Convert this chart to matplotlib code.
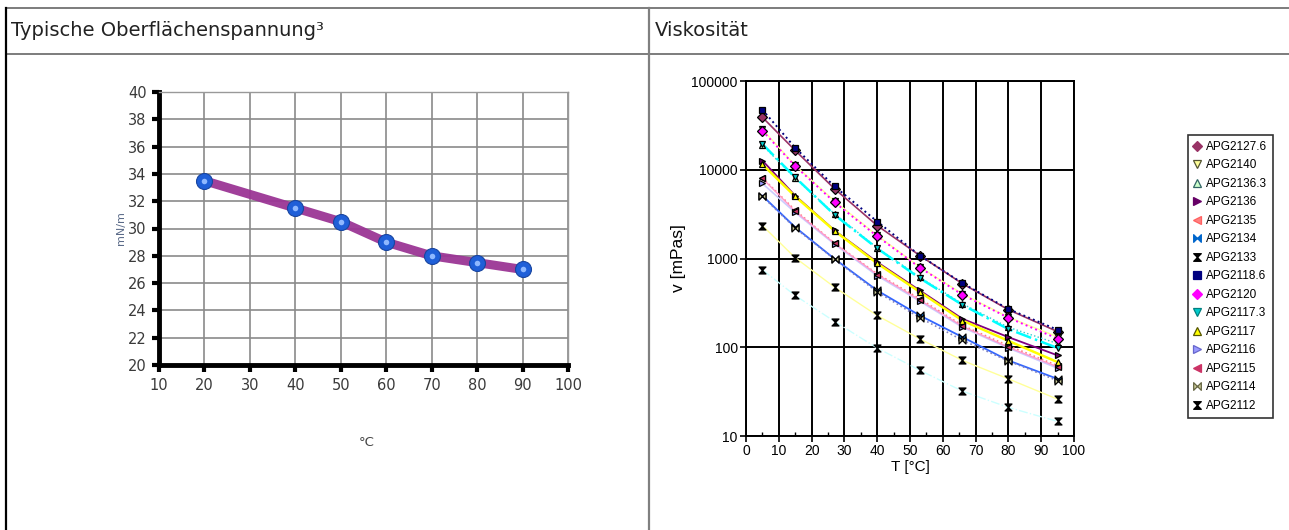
import matplotlib
matplotlib.use('Agg')
import matplotlib.pyplot as plt
from matplotlib.lines import Line2D
from matplotlib.path import Path
import numpy as np

W, H = 1289, 530

# ── Oberflächenspannung ────────────────────────────────────────────────
temp_c = [20, 40, 50, 60, 70, 80, 90]
tension = [33.5, 31.5, 30.5, 29.0, 28.0, 27.5, 27.0]

# ── Viskosität ─────────────────────────────────────────────────────────
visc_temps = [5, 15, 27, 40, 53, 66, 80, 95]
visc_names = ["APG2127.6", "APG2140", "APG2136.3", "APG2136", "APG2135",
              "APG2134", "APG2133", "APG2118.6", "APG2120", "APG2117.3",
              "APG2117", "APG2116", "APG2115", "APG2114", "APG2112"]
visc_values = [
    [39000, 16500, 6100, 2350, 1080, 520, 265, 150],   # 2127.6
    [28500, 11200, 4440, 1820, 800, 400, 218, 131],    # 2140
    [19000, 8000, 3190, 1320, 615, 308, 168, 110],     # 2136.3
    [12700, 5100, 2070, 910, 436, 209, 130, 81],       # 2136
    [8100, 3500, 1490, 672, 351, 176, 104, 62],        # 2135
    [5100, 2250, 990, 436, 228, 130, 71, 44],          # 2134
    [2350, 1020, 475, 228, 124, 71, 44, 26],           # 2133
    [47500, 17700, 6490, 2610, 1080, 527, 270, 157],   # 2118.6
    [27500, 11000, 4300, 1780, 790, 390, 215, 125],    # 2120
    [19500, 8200, 3100, 1300, 600, 300, 160, 98],      # 2117.3
    [11500, 5000, 2050, 880, 420, 200, 118, 68],       # 2117
    [7000, 3300, 1450, 640, 330, 168, 98, 58],         # 2116
    [8000, 3400, 1480, 660, 340, 172, 100, 60],        # 2115
    [5000, 2200, 980, 420, 215, 120, 70, 42],          # 2114
    [745, 383, 195, 98, 55, 32, 21, 14.6],             # 2112
]

bowtie = Path([(-1, 1), (-1, -1), (0, 0), (1, 1), (1, -1), (0, 0), (-1, 1)],
              [1, 2, 2, 2, 2, 2, 79])
ibar = Path([(-1, 1), (1, 1), (0, 0), (-1, -1), (1, -1), (0, 0), (-1, 1)],
            [1, 2, 2, 2, 2, 2, 79])

markers = ['D', 'v', '^', '>', '<', bowtie, ibar, 's', 'D', 'v', '^', '>', '<', bowtie, ibar]
mk_colors = ['#993366', '#FFFF99', '#CCFFCC', '#660066', '#FF8080', '#0066CC', '#000000',
             '#000080', '#FF00FF', '#00CCCC', '#FFFF00', '#9999FF', '#CC3366', '#CCCC99', '#000000']
leg_edges = ['#993366', '#555533', '#336666', '#660066', '#FF6060', '#0066CC', '#000000',
             '#000080', '#FF00FF', '#008080', '#555500', '#6666CC', '#CC3366', '#666644', '#000000']
line_colors = ['#993366', '#FFFF99', '#33CCCC', '#800080', '#FF8080', '#3366FF', '#FFFF99',
               '#000080', '#FF00FF', '#00FFFF', '#FFFF00', '#CCCCFF', '#FF99CC', '#8080C0', '#CCFFFF']
line_styles = ['-', '-', ':', '-', ':', '-', '-', ':', ':', '-.', '-', '-', '-', ':', '-.']
line_widths = [1.2, 1.0, 1.0, 1.3, 1.2, 1.3, 1.0, 1.4, 1.4, 1.8, 1.8, 1.2, 1.0, 1.2, 1.0]


def fx(x):
    return x / W


def fy(y):
    return 1 - y / H


fig = plt.figure(figsize=(W / 100, H / 100), dpi=100)
fig.patch.set_facecolor('white')

# table frame
for (x0, y0, x1, y1, c, lw) in [
        (6, 8, W, 8, '#666666', 1.2),
        (6, 54, W, 54, '#666666', 1.2),
        (6, 8, 6, H, '#000000', 1.6),
        (649, 8, 649, H, '#808080', 1.6)]:
    fig.add_artist(Line2D([fx(x0), fx(x1)], [fy(y0), fy(y1)], color=c, lw=lw))

fig.text(fx(11), fy(31), 'Typische Oberflächenspannung³', fontsize=14,
         va='center', ha='left', color='#222222', family='DejaVu Sans')
fig.text(fx(655), fy(31), 'Viskosität', fontsize=14,
         va='center', ha='left', color='#222222', family='DejaVu Sans')

# ── left chart ─────────────────────────────────────────────────────────
ax1 = fig.add_axes([fx(159), fy(365), fx(568 - 159), (365 - 92) / H])
ax1.set_xlim(10, 100)
ax1.set_ylim(20, 40)
ax1.set_xticks(np.arange(10, 101, 10))
ax1.set_yticks(np.arange(20, 41, 2))
ax1.grid(True, color='#8a8a8a', lw=1.2)
ax1.set_axisbelow(True)
for s in ['top', 'right']:
    ax1.spines[s].set_color('#999999')
    ax1.spines[s].set_linewidth(1.0)
for s in ['left', 'bottom']:
    ax1.spines[s].set_color('black')
    ax1.spines[s].set_linewidth(3.5)
ax1.tick_params(direction='out', length=5, width=3, color='black',
                labelsize=10.5, labelcolor='#3a3a3a', pad=4)
ax1.plot(temp_c, tension, color='#9B3595', lw=6.5, alpha=0.95,
         solid_capstyle='round', solid_joinstyle='round', zorder=3)
ax1.plot(temp_c, tension, 'o', ms=11.5, mfc='#1f5fd8', mec='#1845a0', mew=0.8, zorder=4)
ax1.plot(temp_c, tension, 'o', ms=4, mfc='#8fb8ff', mec='none', zorder=5)
fig.text(fx(121), fy(228), 'mN/m', rotation=90, fontsize=8, color='#5a6a88',
         ha='center', va='center')
fig.text(fx(367), fy(442), '°C', fontsize=9.5, color='#444444',
         ha='center', va='center')

# ── right chart ────────────────────────────────────────────────────────
ax2 = fig.add_axes([fx(746), fy(436), fx(1074 - 746), (436 - 81) / H])
ax2.set_yscale('log')
ax2.set_xlim(0, 100)
ax2.set_ylim(10, 100000)
ax2.set_xticks(np.arange(0, 101, 10))
ax2.set_xticks(np.arange(5, 100, 10), minor=True)
ax2.set_yticks([10, 100, 1000, 10000, 100000])
ax2.set_yticklabels(['10', '100', '1000', '10000', '100000'])
ax2.yaxis.set_minor_locator(matplotlib.ticker.NullLocator())
ax2.grid(True, which='major', color='black', lw=1.4)
ax2.set_axisbelow(True)
for s in ax2.spines.values():
    s.set_color('black')
    s.set_linewidth(1.4)
ax2.tick_params(which='major', direction='out', length=4, width=1.2,
                labelsize=10, pad=2)
ax2.tick_params(which='minor', direction='in', length=3, width=1.0)
for lab in ax2.get_xticklabels() + ax2.get_yticklabels():
    lab.set_family('Liberation Sans')

handles = []
for i, name in enumerate(visc_names):
    vals = visc_values[i]
    ax2.plot(visc_temps, vals, color=line_colors[i], ls=line_styles[i],
             lw=line_widths[i], zorder=2)
    ax2.plot(visc_temps, vals, ls='none', marker=markers[i], ms=5,
             mfc=mk_colors[i], mec='black', mew=0.9, zorder=3)
    handles.append(Line2D([], [], ls='none', marker=markers[i], ms=5.5,
                          mfc=mk_colors[i], mec=leg_edges[i], mew=0.9, label=name))

ax2.set_xlabel('T [°C]', fontsize=11, family='Liberation Sans', labelpad=1)
ax2.set_ylabel('v [mPas]', fontsize=12.5, family='Liberation Sans', labelpad=4)

leg = fig.legend(handles=handles, loc='upper left',
                 bbox_to_anchor=(fx(1188), fy(135)), frameon=True,
                 fancybox=False, edgecolor='black',
                 prop={'family': 'Liberation Sans', 'size': 8.5},
                 handlelength=0.6, handletextpad=0.45, labelspacing=0.55,
                 borderpad=0.5, borderaxespad=0)
leg.get_frame().set_linewidth(1.2)

fig.savefig('out.png', dpi=100, facecolor='white')
